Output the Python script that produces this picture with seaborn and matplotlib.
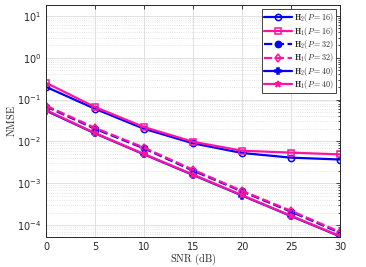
import matplotlib
matplotlib.use("Agg")
import matplotlib.pyplot as plt
import numpy as np
import pandas as pd
import seaborn as sns
from matplotlib.ticker import LogLocator, NullFormatter

# SNR grid and NMSE curves
snr_db = [0, 5, 10, 15, 20, 25, 30]
h2_p16 = [0.20, 0.060, 0.020, 0.0090, 0.0053, 0.0041, 0.0037]
h1_p16 = [0.25, 0.066, 0.022, 0.0098, 0.0060, 0.0054, 0.0049]
h2_p32 = [0.068, 0.020, 0.0068, 0.0020, 0.00064, 0.00021, 0.000066]
h1_p32 = [0.071, 0.021, 0.0071, 0.0021, 0.00066, 0.00022, 0.000069]
h2_p40 = [0.054, 0.0155, 0.0049, 0.00158, 0.00051, 0.000165, 0.000054]
h1_p40 = [0.056, 0.0158, 0.0050, 0.00162, 0.00052, 0.000168, 0.000055]

BLUE = "#0000ff"
PINK = "#ff14a0"

series = [
    (r"$\mathbf{H}_2(P=16)$", h2_p16, BLUE, "-", "o", "none"),
    (r"$\mathbf{H}_1(P=16)$", h1_p16, PINK, "-", "s", "none"),
    (r"$\mathbf{H}_2(P=32)$", h2_p32, BLUE, "--", "o", BLUE),
    (r"$\mathbf{H}_1(P=32)$", h1_p32, PINK, "--", "d", "none"),
    (r"$\mathbf{H}_2(P=40)$", h2_p40, BLUE, "-", "P", BLUE),
    (r"$\mathbf{H}_1(P=40)$", h1_p40, PINK, "-", "*", PINK),
]

sns.set_style("white")
plt.rcParams["mathtext.fontset"] = "cm"
plt.rcParams["font.family"] = ["DejaVu Sans"]

fig = plt.figure(figsize=(3.66, 2.67), dpi=100)
ax = fig.add_axes([0.126, 0.112, 0.803, 0.869])

for label, vals, color, ls, marker, mfc in series:
    df = pd.DataFrame({"snr": snr_db, "nmse": vals})
    sns.lineplot(
        data=df, x="snr", y="nmse", ax=ax, color=color, linestyle=ls,
        linewidth=1.6, marker=marker, markersize=4.5,
        markerfacecolor=mfc, markeredgecolor=color, markeredgewidth=1.1,
        label=label,
    )

ax.set_yscale("log")
ax.set_xlim(0, 30)
ax.set_ylim(5.2e-5, 18)
ax.set_xticks([0, 5, 10, 15, 20, 25, 30])
ax.yaxis.set_major_locator(LogLocator(base=10, numticks=10))
ax.yaxis.set_minor_locator(LogLocator(base=10, subs=np.arange(2, 10), numticks=10))
ax.yaxis.set_minor_formatter(NullFormatter())

ax.grid(True, which="major", color="#dcdcdc", linewidth=0.6)
ax.grid(True, which="minor", color="#dcdcdc", linestyle=":", linewidth=0.6)
ax.tick_params(which="both", direction="in", top=True, right=True,
               labelsize=7, colors="#262626", width=0.6)
ax.tick_params(which="major", length=3)
ax.tick_params(which="minor", length=1.5)
for sp in ax.spines.values():
    sp.set_color("#262626")
    sp.set_linewidth(0.7)

ax.set_xlabel(r"$\mathrm{SNR\ (dB)}$", fontsize=7.5, labelpad=0)
ax.set_ylabel(r"$\mathrm{NMSE}$", fontsize=7.5, labelpad=0)

leg = ax.legend(loc="upper right", fontsize=5.8, frameon=True, fancybox=False,
                edgecolor="#262626", framealpha=1, borderpad=0.25,
                labelspacing=0.05, handlelength=3.5, handletextpad=0.3,
                borderaxespad=0.5)
leg.get_frame().set_linewidth(0.6)

fig.savefig("out.png", dpi=100)
